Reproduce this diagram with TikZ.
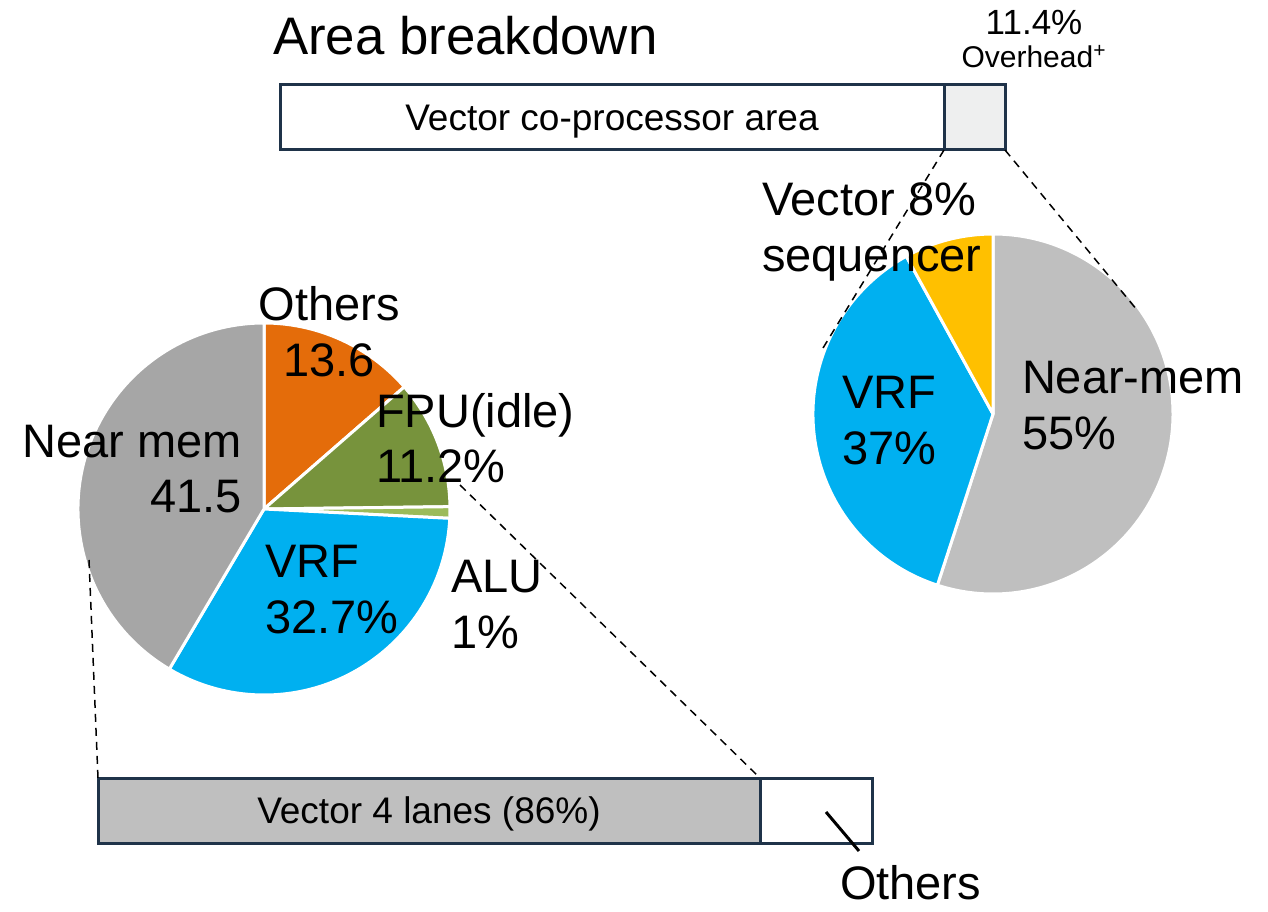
\documentclass[tikz,border=0pt]{standalone}
\usepackage{fontspec}
\setmainfont{Liberation Sans}
\usepackage{xcolor}
\usetikzlibrary{positioning}
\definecolor{barline}{HTML}{1F3349}
\definecolor{ovhfill}{HTML}{EEEFEF}
\definecolor{nearmemR}{HTML}{BFBFBF}
\definecolor{nearmemL}{HTML}{A6A6A6}
\definecolor{vrf}{HTML}{00B0F0}
\definecolor{seq}{HTML}{FFC000}
\definecolor{others}{HTML}{E46C0A}
\definecolor{fpu}{HTML}{77933C}
\definecolor{alu}{HTML}{9BBB59}
\newcommand{\pieslice}[5]{\filldraw[slice, fill=#5] (#1) -- ++(#3:#2) arc[start angle=#3, end angle=#4, radius=#2] -- cycle;}

\begin{document}
\begin{tikzpicture}[
	x=0.5pt, y=0.5pt,
	every node/.style={inner sep=0pt, outer sep=0pt},
	bar/.style={draw=barline, line width=1.5pt, minimum height=32.5pt, text depth=0pt, font=\fontsize{18.5}{22}\selectfont},
	lbl/.style={font=\fontsize{23.5}{28}\selectfont, align=left, anchor=base west},
	zoomline/.style={dash pattern=on 4pt off 3pt, line width=0.75pt},
	slice/.style={draw=white, line width=1.5pt, line join=round}
	]
	\useasboundingbox (0,0) rectangle (1268,911);
	
	\node[anchor=base west, font=\fontsize{26.4}{30}\selectfont] (title) at (273,856) {Area breakdown};
	\node[bar, minimum width=332pt] (cop) at (612,793.5) {Vector co-processor area};
	\node[bar, minimum width=30.5pt, fill=ovhfill, anchor=west] (ovh) at (cop.east) {};
	\node[anchor=base, font=\fontsize{17.5}{20}\selectfont] (ovhpct) at (1034,876) {11.4\%};
	\node[anchor=base, font=\fontsize{15}{18}\selectfont] (ovhlbl) at (1034,843) {Overhead\textsuperscript{+}};
	
	\coordinate (rc) at (993,497);
	\pieslice{rc}{180}{90}{-108}{nearmemR}
	\pieslice{rc}{180}{-108}{-241.2}{vrf}
	\pieslice{rc}{180}{118.8}{90}{seq}
	\node[lbl] (seqlbl) at (762,639) {Vector 8\%\\sequencer};
	\node[lbl] (vrfR) at (842,446) {VRF\\37\%};
	\node[lbl] (nearmemlblR) at (1022,461) {Near-mem\\55\%};
	
	\coordinate (lc) at (264,402);
	\pieslice{lc}{186}{90}{41.04}{others}
	\pieslice{lc}{186}{41.04}{0.72}{fpu}
	\pieslice{lc}{186}{0.72}{-2.88}{alu}
	\pieslice{lc}{186}{-2.88}{-120.6}{vrf}
	\pieslice{lc}{186}{-120.6}{-270}{nearmemL}
	\node[lbl, align=center, anchor=base] (otherslbl) at (329,534) {Others\\13.6};
	\node[lbl] (fpulbl) at (376,428) {FPU(idle)\\11.2\%};
	\node[lbl, align=right, anchor=base east] (nearmemlblL) at (242,398) {Near mem\\41.5};
	\node[lbl] (vrfL) at (265,278) {VRF\\32.7\%};
	\node[lbl] (alulbl) at (451,263) {ALU\\1\%};
	
	\node[bar, minimum width=331pt, fill=nearmemR] (lanes) at (429,100.5) {Vector 4 lanes (86\%)};
	\node[bar, minimum width=56pt, anchor=west] (lanesoth) at (lanes.east) {};
	\node[lbl, text depth=0pt] (lanesothlbl) at (840,12) {Others};
	\coordinate (ldr) at (826,99);
	\coordinate (ldrend) at (859,60);
	\draw[line width=1.5pt] (ldr) -- (ldrend);
	
	\coordinate (rp1) at (823,563);
	\coordinate (rp2) at (1137,601);
	\coordinate (lp1) at (89,351);
	\coordinate (lp2) at (460,426);
	\draw[zoomline] (cop.south east) -- (rp1);
	\draw[zoomline] (ovh.south east) -- (rp2);
	\draw[zoomline] (lp1) -- (lanes.north west);
	\draw[zoomline] (lp2) -- (lanes.north east);
	
\end{tikzpicture}
\end{document}
